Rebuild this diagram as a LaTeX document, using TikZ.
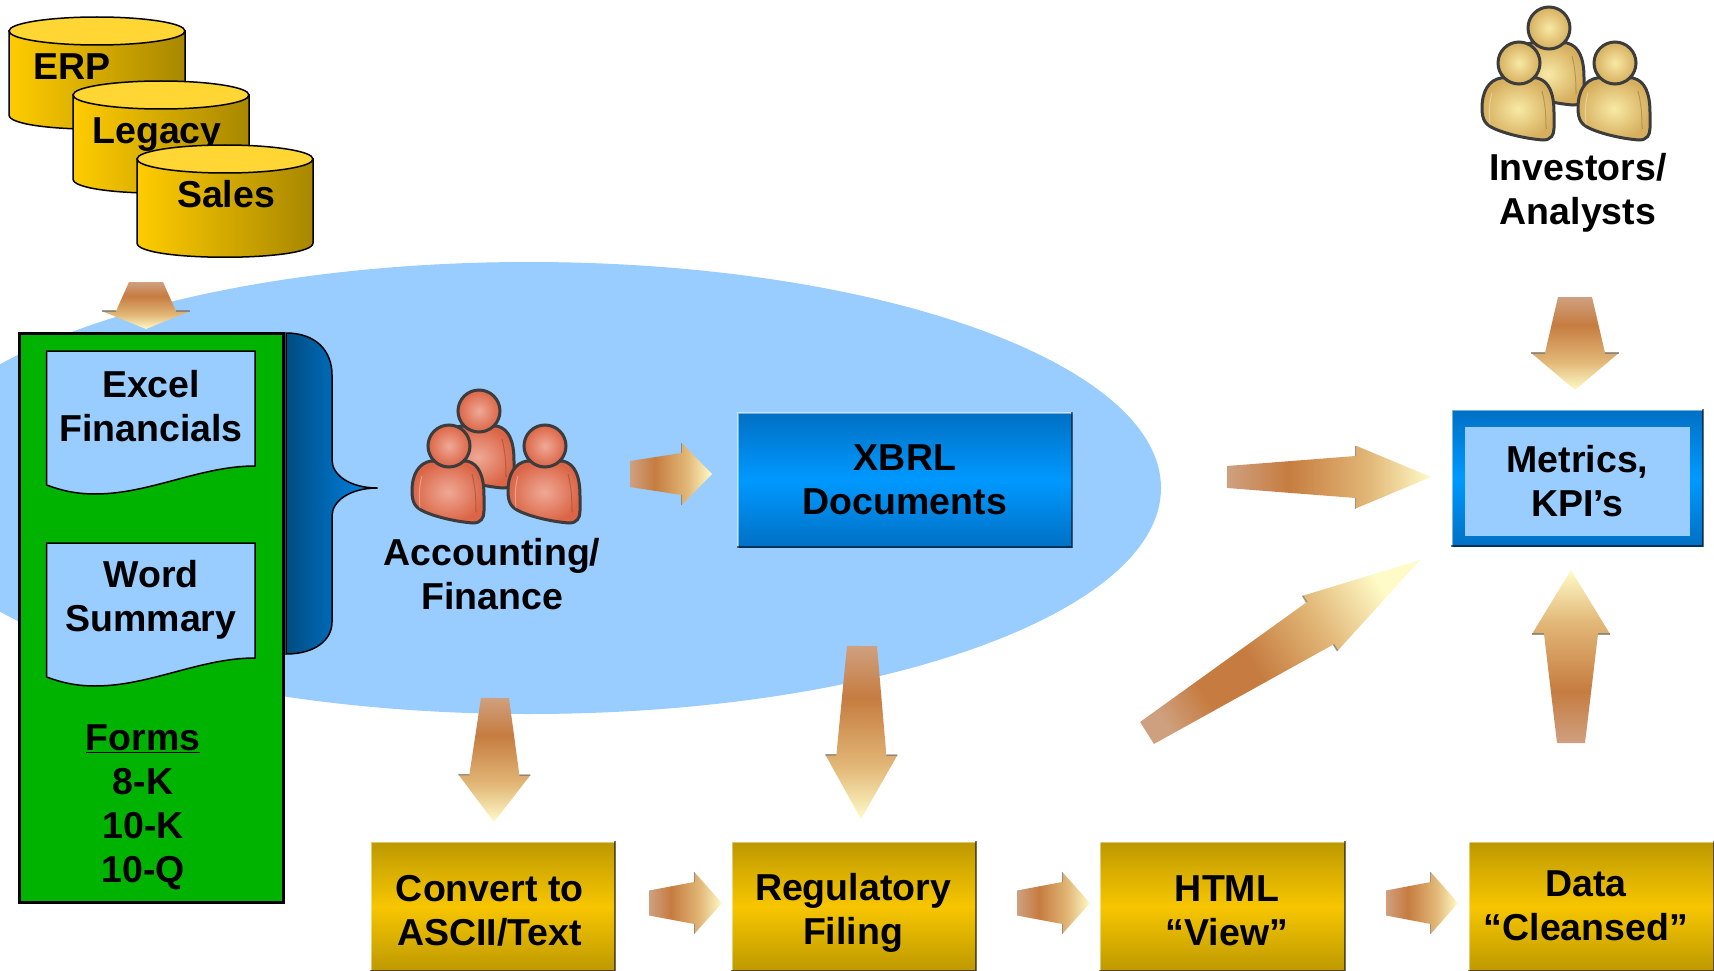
\documentclass[tikz,border=0pt]{standalone}
\usepackage{fontspec}
\setmainfont{Liberation Sans}
\usetikzlibrary{calc}

\definecolor{lakeblue}{HTML}{99CCFF}
\definecolor{formgreen}{HTML}{00B300}
\definecolor{dbleft}{HTML}{FFCC00}
\definecolor{dbright}{HTML}{A88700}
\definecolor{dblid}{HTML}{FFD633}
\definecolor{goldedge}{HTML}{BD9900}
\definecolor{goldmid}{HTML}{F7C600}
\definecolor{bluemid}{HTML}{0099FF}
\definecolor{blueedge}{HTML}{0070C4}
\definecolor{braceleft}{HTML}{004C80}
\definecolor{braceright}{HTML}{0088EE}
\definecolor{arrowtail}{HTML}{CFA080}
\definecolor{arrowbody}{HTML}{C67C40}
\definecolor{arrowpale}{HTML}{E2B878}
\definecolor{arrowtip}{HTML}{FFFBC8}
\definecolor{folkline}{HTML}{3C3C3C}
\definecolor{redfolkin}{HTML}{EFA996}
\definecolor{redfolkout}{HTML}{DB6546}
\definecolor{goldfolkin}{HTML}{F8E9A6}
\definecolor{goldfolkout}{HTML}{D6AF5E}

\pgfdeclarehorizontalshading{arrowglow}{100bp}{
  color(0bp)=(arrowtail); color(25bp)=(arrowtail); color(40bp)=(arrowbody);
  color(60bp)=(arrowpale); color(75bp)=(arrowtip); color(100bp)=(arrowtip)}
\pgfdeclarehorizontalshading{diagglow}{100bp}{
  color(0bp)=(arrowtail); color(22bp)=(arrowtail); color(32bp)=(arrowbody); color(44bp)=(arrowbody);
  color(60bp)=(arrowpale); color(75bp)=(arrowtip); color(100bp)=(arrowtip)}
\pgfdeclareverticalshading{goldband}{100bp}{
  color(0bp)=(goldedge); color(25bp)=(goldedge); color(50bp)=(goldmid);
  color(75bp)=(goldedge); color(100bp)=(goldedge)}
\pgfdeclareverticalshading{blueband}{100bp}{
  color(0bp)=(blueedge); color(25bp)=(blueedge); color(50bp)=(bluemid);
  color(75bp)=(blueedge); color(100bp)=(blueedge)}

\newcommand{\flowarrow}[7]{
  \shade[#7]
    ($(#1)!#3pt!90:(#2)$) -- ($(#1)!#6!(#2)!#4pt!90:(#2)$) --
    ($(#1)!#6!(#2)!#5pt!90:(#2)$) -- (#2) --
    ($(#1)!#6!(#2)!#5pt!-90:(#2)$) -- ($(#1)!#6!(#2)!#4pt!-90:(#2)$) --
    ($(#1)!#3pt!-90:(#2)$) -- cycle;
  \draw[shoulder] ($(#1)!#6!(#2)!#4pt!90:(#2)$) -- ($(#1)!#6!(#2)!#5pt!90:(#2)$);
  \draw[shoulder] ($(#1)!#6!(#2)!#4pt!-90:(#2)$) -- ($(#1)!#6!(#2)!#5pt!-90:(#2)$);
}

\tikzset{
  label text/.style = {font=\bfseries\fontsize{37.5}{44}\selectfont, align=center, inner sep=0pt},
  shoulder/.style = {draw=black!55, line width=1.5pt, opacity=0.7},
  glow/.style = {shading=arrowglow, shading angle=#1},
  dbbody/.style = {left color=dbleft, right color=dbright, draw=black, line width=1.5pt},
  docbox/.style = {fill=lakeblue, draw=black, line width=1.5pt},
  goldbox/.style = {minimum width=244pt, minimum height=129pt, shade, shading=goldband},
  bluebox/.style = {label text, shade, shading=blueband},
  edge light/.style = {line width=2pt, line cap=rect, draw=white, opacity=0.45},
  edge dark/.style = {line width=2pt, line cap=rect, draw=black, opacity=0.55},
  pics/folk/.style n args = {2}{code = {
    \foreach \px/\py in {30/-35, 0/0, 96/0}{
      \begin{scope}[shift={(\px,\py)}]
        \shade[inner color=#1, outer color=#2, draw=folkline, line width=3pt]
          (-18,15) .. controls (-30,17) and (-37,28) .. (-37,45)
          .. controls (-37,58) and (-33,62) .. (-24,66)
          .. controls (-10,72) and (10,76) .. (24,77)
          .. controls (32,77) and (35,72) .. (35,65)
          -- (35,50) .. controls (35,30) and (30,18) .. (18,15) -- cycle;
        \draw[white, opacity=0.35, line width=1pt] (-27,30) .. controls (-30,40) and (-30,50) .. (-29,62);
        \draw[black, opacity=0.2, line width=1pt] (23,28) .. controls (26,40) and (27,50) .. (27,66);
        \shade[inner color=#1, outer color=#2, draw=folkline, line width=3pt]
          (0,0) circle [radius=21];
      \end{scope}
    }
  }}
}

\begin{document}
\begin{tikzpicture}[x=1pt, y=-1pt]
  \path[use as bounding box, clip] (0,0) rectangle (1714,971);

  \fill[lakeblue] (529,488) ellipse [x radius=632, y radius=226];

  \foreach \dbx/\dby/\dbname/\dbtext/\tx/\ty in {9/31/erp/ERP/72/67, 73/95/legacy/Legacy/157/135, 137/159/sales/Sales/226/194}{
    \shade[dbbody] (\dbx,\dby) -- ++(0,84)
      .. controls +(0,19) and +(0,19) .. ++(176,0) -- ++(0,-84) -- cycle;
    \filldraw[fill=dblid, draw=black, line width=1.5pt] (\dbx+88,\dby) ellipse [x radius=88, y radius=14];
    \node[label text] (\dbname) at (\tx,\ty) {\dbtext};
  }

  \node[fill=formgreen, draw=black, line width=3pt, minimum width=264pt, minimum height=569pt] (forms) at (151,618) {};
  \foreach \docy/\docname/\doctext/\ty in {351/excel/Excel\\Financials/406, 543/word/Word\\Summary/600}{
    \draw[docbox] (46.6,\docy) -- (255,\docy) -- (255,\docy+115)
      .. controls (200,\docy+115) and (150,\docy+143) .. (95,\docy+143)
      .. controls (75,\docy+143) and (60,\docy+139) .. (46.6,\docy+134) -- cycle;
    \node[label text] (\docname) at (151,\ty) {\doctext};
  }
  \node[label text] (formlist) at (143,807) {\underline{Forms}\\8-K\\10-K\\10-Q};

  \shade[left color=braceleft, right color=braceright, draw=black, line width=1.5pt]
    (286,333) .. controls (315,333) and (332,350) .. (332,375) -- (332,460)
    .. controls (332,475) and (350,488) .. (377.5,488)
    .. controls (350,488) and (332,501) .. (332,516) -- (332,622)
    .. controls (332,640) and (315,654) .. (286,654) -- cycle;

  \pic at (449,446) {folk={redfolkin}{redfolkout}};
  \node[label text] (accounting) at (492,574) {Accounting/\\Finance};

  \pic at (1519,63) {folk={goldfolkin}{goldfolkout}};
  \node[label text] (investors) at (1578,193) {Investors/\\Analysts};

  \node[bluebox, minimum width=334pt, minimum height=134pt] (xbrl) at (905,480) {XBRL\\Documents};
  \node[bluebox, minimum width=251pt, minimum height=136pt] (metricsframe) at (1577.5,478) {};
  \node[label text, fill=lakeblue, minimum width=225pt, minimum height=109pt] (metrics) at (1577.5,481) {Metrics,\\KPI’s};
  \foreach \boxname in {xbrl, metricsframe}{
    \draw[edge light] (\boxname.south west) -- (\boxname.north west) -- (\boxname.north east);
    \draw[edge dark] (\boxname.north east) -- (\boxname.south east) -- (\boxname.south west);
  }

  \foreach \boxname/\bx/\tx/\ty/\boxtext in {convert/493/489.7/911/{Convert to\\ASCII/Text}, filing/854/853/913/Regulatory\\Filing, view/1222.5/1227/911/HTML\\“View”, cleansed/1591.5/1586/905.5/Data\\“Cleansed”}{
    \node[goldbox] (\boxname) at (\bx,906.5) {};
    \draw[edge light] (\boxname.south west) -- (\boxname.north west) -- (\boxname.north east);
    \draw[edge dark] (\boxname.north east) -- (\boxname.south east) -- (\boxname.south west);
    \node[label text] (\boxname text) at (\tx,\ty) {\boxtext};
  }

  \coordinate (dbout) at (146,282);
  \coordinate (formsin) at (146,329);
  \coordinate (accout) at (630,474);
  \coordinate (xbrlin) at (712,474);
  \coordinate (xbrlout) at (1227,477);
  \coordinate (metricsin) at (1431,477);
  \coordinate (webout) at (1147,733);
  \coordinate (metricsdiag) at (1420,560);
  \coordinate (accdown) at (495,698);
  \coordinate (convertin) at (494,822);
  \coordinate (xbrldown) at (862,646);
  \coordinate (filingin) at (861,819);
  \coordinate (investorsout) at (1575,297);
  \coordinate (metricstop) at (1575,390);
  \coordinate (cleansedout) at (1571,743);
  \coordinate (metricsunder) at (1571,570);

  \flowarrow{dbout}{formsin}{17}{30}{44}{0.62}{glow=-90}
  \flowarrow{accout}{xbrlin}{13}{21}{31}{0.63}{glow=0}
  \flowarrow{xbrlout}{metricsin}{11}{21}{31.5}{0.63}{glow=0}
  \flowarrow{webout}{metricsdiag}{13}{25}{32.6}{0.634}{shading=diagglow, shading angle=32}
  \flowarrow{accdown}{convertin}{14}{25}{36}{0.62}{glow=-90}
  \flowarrow{xbrldown}{filingin}{15}{25}{36}{0.63}{glow=-90}
  \flowarrow{investorsout}{metricstop}{17}{30}{44}{0.6}{glow=-90}
  \flowarrow{cleansedout}{metricsunder}{14}{27}{39}{0.63}{glow=90}

  \foreach \first/\second/\fromx/\tox in {convert/filing/649/722, filing/view/1017/1090, view/cleansed/1386/1458}{
    \coordinate (\first out) at (\fromx,903);
    \coordinate (\second in) at (\tox,903);
    \flowarrow{\first out}{\second in}{12.5}{21}{31}{0.62}{glow=0}
  }
\end{tikzpicture}
\end{document}
